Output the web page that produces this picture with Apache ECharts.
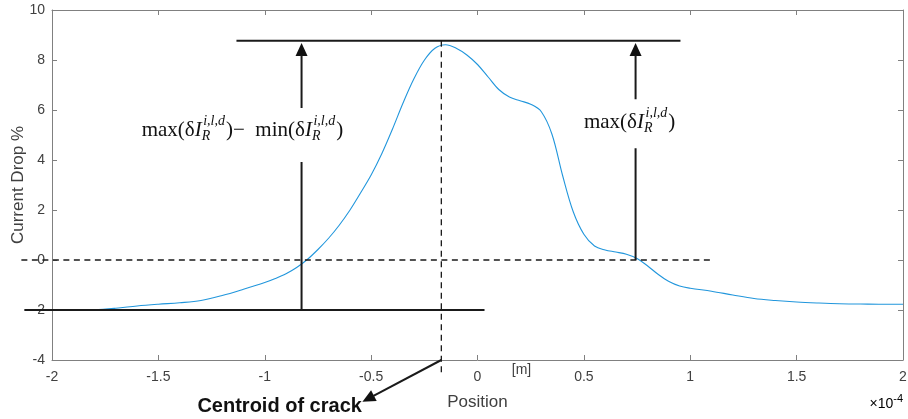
<!DOCTYPE html>
<html><head><meta charset="utf-8">
<script src="https://cdn.jsdelivr.net/npm/echarts@6/dist/echarts.min.js"></script>
<style>html,body{margin:0;padding:0;background:#fff}#c{width:908px;height:419px}</style>
</head><body><div id="c"></div>
<script>
// Position in units of 1e-4 m
const positions = [-2.0,-1.9,-1.8,-1.7,-1.6,-1.5,-1.4,-1.3,-1.2,-1.1,-1.0,
  -0.95,-0.9,-0.85,-0.8,-0.75,-0.7,-0.65,-0.6,-0.55,-0.5,-0.45,-0.4,-0.35,-0.3,-0.25,-0.2,-0.15,-0.1,-0.05,
  0.0,0.05,0.1,0.15,0.2,0.25,0.3,0.35,0.4,0.45,0.5,0.55,0.6,0.65,0.7,0.75,0.8,0.85,0.9,0.95,
  1.0,1.1,1.2,1.3,1.4,1.5,1.6,1.7,1.8,1.9,2.0];
const currentDrop = [-2.01,-2.0,-1.99,-1.93,-1.84,-1.77,-1.71,-1.62,-1.42,-1.17,-0.90,
  -0.74,-0.55,-0.30,0.02,0.42,0.87,1.39,1.99,2.68,3.40,4.25,5.23,6.28,7.23,7.99,8.47,8.61,8.47,8.20,
  7.82,7.32,6.82,6.52,6.37,6.23,5.93,5.03,3.38,1.93,1.03,0.56,0.40,0.32,0.23,0.06,-0.24,-0.58,-0.86,-1.04,
  -1.13,-1.25,-1.40,-1.54,-1.62,-1.68,-1.72,-1.75,-1.76,-1.77,-1.77];
const xTicks = [-2,-1.5,-1,-0.5,0,0.5,1,1.5,2];
const yTicks = [-4,-2,0,2,4,6,8,10];
// annotation segments: x1, y1, x2, y2, dashed, arrowhead
const segments = [
  [-1.133, 8.77, 0.954, 8.77, 0, 0],
  [-2.13, -2, 0.033, -2, 0, 0],
  [-2.144, 0, 1.11, 0, 1, 0],
  [-0.17, 8.77, -0.17, -4.55, 1, 0],
  [-0.827, -2, -0.827, 3.92, 0, 0],
  [-0.827, 6.08, -0.827, 8.68, 0, 1],
  [0.743, 0, 0.743, 4.47, 0, 0],
  [0.743, 6.43, 0.743, 8.68, 0, 1],
  [-0.17, -4, -0.541, -5.67, 0, 1]
];
const formulaLeftAt = [-1.105, 5.2];
const formulaRightAt = [0.715, 5.52];
const centroidLabelAt = [-0.93, -5.84];
const unitLabelAt = [0.207, -4.4];

const chart = echarts.init(document.getElementById('c'));
const axisCol = '#808080', txtCol = '#404040';
function baseAxis(extra){
  return Object.assign({
    type:'value', splitLine:{show:false},
    axisLine:{show:true, onZero:false, lineStyle:{color:axisCol, width:1}},
    axisTick:{show:true, inside:true, length:5, lineStyle:{color:axisCol}},
  }, extra);
}
const option = {
  animation:false,
  grid:{left:52, right:5, top:10, bottom:59, outerBoundsMode:'none', containLabel:false},
  xAxis:[
    baseAxis({min:xTicks[0], max:xTicks[xTicks.length-1], interval:0.5, position:'bottom',
      axisLabel:{color:txtCol, fontSize:14, fontFamily:'Liberation Sans', margin:10, formatter:v=>String(v)},
      name:'Position', nameLocation:'middle', nameGap:34, nameMoveOverlap:false,
      nameTextStyle:{color:txtCol, fontSize:17, fontFamily:'Liberation Sans'}}),
    baseAxis({min:xTicks[0], max:xTicks[xTicks.length-1], interval:0.5, position:'top', axisLabel:{show:false}})
  ],
  yAxis:[
    baseAxis({min:yTicks[0], max:yTicks[yTicks.length-1], interval:2, position:'left',
      axisLabel:{color:txtCol, fontSize:14, fontFamily:'Liberation Sans', margin:7},
      name:'Current Drop %', nameLocation:'middle', nameGap:25, nameMoveOverlap:false,
      nameTextStyle:{color:txtCol, fontSize:17, fontFamily:'Liberation Sans'}}),
    baseAxis({min:yTicks[0], max:yTicks[yTicks.length-1], interval:2, position:'right', axisLabel:{show:false}})
  ],
  series:[
    {type:'line', data:positions.map((x,i)=>[x,currentDrop[i]]), smooth:0.35, symbol:'none',
     lineStyle:{color:'#2196dc', width:1.1}, z:3},
    {type:'custom', clip:false, z:4,
     data:segments,
     encode:{x:[0,2], y:[1,3]},
     renderItem:function(params, api){
       const p1 = api.coord([api.value(0), api.value(1)]);
       const p2 = api.coord([api.value(2), api.value(3)]);
       const dashed = api.value(4), arrow = api.value(5);
       const children = [];
       let end = p2.slice();
       if (arrow){
         const dx = p2[0]-p1[0], dy = p2[1]-p1[1];
         const L = Math.hypot(dx,dy), ux = dx/L, uy = dy/L;
         const len = 13, w = 12;
         const bx = p2[0]-ux*len, by = p2[1]-uy*len;
         end = [bx+ux*1, by+uy*1];
         children.push({type:'polygon', shape:{points:[[p2[0],p2[1]],[bx-uy*w/2, by+ux*w/2],[bx+uy*w/2, by-ux*w/2]]},
           style:{fill:'#111'}});
       }
       children.push({type:'line', shape:{x1:p1[0], y1:p1[1], x2:end[0], y2:end[1]},
         style:{stroke:'#1a1a1a', lineWidth: dashed?1.3:2, lineDash: dashed?[6,4.5]:null}});
       return {type:'group', children:children};
     }}
  ]
};
chart.setOption(option);

// math label builder
const cv = document.createElement('canvas').getContext('2d');
const SERIF = '"Liberation Serif"';
function mw(text, size, italic){ cv.font = (italic?'italic ':'') + size + 'px ' + SERIF; return cv.measureText(text).width; }
function mathLabel(parts, center, size){
  const sub = Math.round(size*0.66);
  let items = [], x = 0;
  parts.forEach(p=>{
    if (p.sup){
      const w1 = mw(p.sup, sub, true), w2 = mw(p.sub, sub, true);
      items.push({t:p.sup, x:x+1.5, dy:-size*0.42, s:sub, it:true});
      items.push({t:p.sub, x:x, dy:size*0.32, s:sub, it:true});
      x += Math.max(w1,w2)+2.5;
    } else {
      items.push({t:p.t, x:x, dy:0, s:size, it:!!p.i});
      x += mw(p.t, size, !!p.i);
    }
  });
  const x0 = center[0]-x/2;
  return items.map(it=>({type:'text', silent:true, z:10,
    style:{text:it.t, x:x0+it.x, y:center[1]+it.dy, fill:'#111', verticalAlign:'middle', align:'left',
      font:(it.it?'italic ':'') + it.s + 'px ' + SERIF}}));
}
const leftParts = [{t:'max(δ'},{t:'I',i:1},{sup:'i,l,d',sub:'R'},{t:')−  min(δ'},{t:'I',i:1},{sup:'i,l,d',sub:'R'},{t:')'}];
const rightParts = [{t:'max(δ'},{t:'I',i:1},{sup:'i,l,d',sub:'R'},{t:')'}];
const px = v => chart.convertToPixel({gridIndex:0}, v);
const cL = px(formulaLeftAt), cR = px(formulaRightAt), cC = px(centroidLabelAt), cU = px(unitLabelAt);
const g = [].concat(
  mathLabel(leftParts, cL, 21),
  mathLabel(rightParts, cR, 21),
  [{type:'text', silent:true, style:{text:'Centroid of crack', x:cC[0], y:cC[1], align:'center', verticalAlign:'middle',
     font:'bold 20px "Liberation Sans"', fill:'#111'}},
   {type:'text', silent:true, style:{text:'[m]', x:cU[0], y:cU[1], align:'center', verticalAlign:'middle',
     font:'14px "Liberation Sans"', fill:txtCol}},
   {type:'text', silent:true, style:{text:'{a|×10}{b|-4}', x:903, y:404, align:'right', verticalAlign:'middle',
     rich:{a:{fontSize:14, fontFamily:'Liberation Sans', color:txtCol}, b:{fontSize:11, fontFamily:'Liberation Sans', color:txtCol, padding:[0,0,10,0]}}}}]
);
chart.setOption({graphic:g});
</script></body></html>
